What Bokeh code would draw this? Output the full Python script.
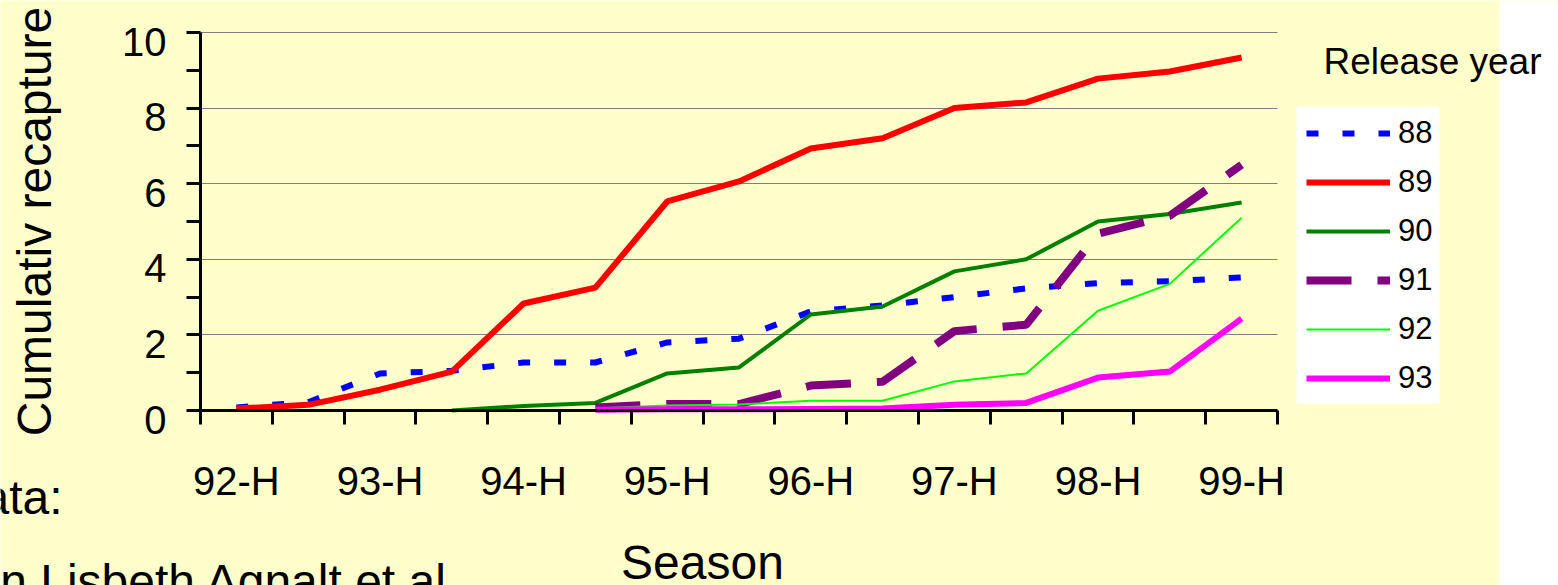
import math
from bokeh.plotting import figure
from bokeh.models import (Range1d, FixedTicker, Label, Legend, LegendItem,
                          BoxAnnotation, LinearAxis)
from bokeh.embed import file_html
from bokeh.resources import INLINE

# ---- data -------------------------------------------------------------
seasons = ["92-H", "93-V", "93-H", "94-V", "94-H", "95-V", "95-H", "96-V",
           "96-H", "97-V", "97-H", "98-V", "98-H", "99-V", "99-H"]
y_ticks = [0, 2, 4, 6, 8, 10]
y_minor = [1, 3, 5, 7, 9]
y_max = 10

r88 = [0.08, 0.22, 0.98, 1.05, 1.27, 1.27, 1.80, 1.90, 2.62, 2.78, 3.00, 3.23, 3.37, 3.42, 3.52]
r89 = [0.05, 0.15, 0.55, 1.03, 2.83, 3.25, 5.53, 6.06, 6.93, 7.20, 8.00, 8.15, 8.78, 8.97, 9.34]
r90 = [None, None, None, 0.00, 0.12, 0.20, 0.98, 1.14, 2.54, 2.75, 3.68, 4.00, 5.00, 5.20, 5.50]
r91 = [None, None, None, None, None, 0.08, 0.17, 0.17, 0.66, 0.76, 2.10, 2.27, 4.68, 5.15, 6.50]
r92 = [None, None, None, None, None, 0.05, 0.13, 0.16, 0.26, 0.26, 0.77, 0.98, 2.64, 3.35, 5.10]
r93 = [None, None, None, None, None, 0.02, 0.03, 0.03, 0.04, 0.05, 0.15, 0.20, 0.87, 1.03, 2.43]

release_years = ["88", "89", "90", "91", "92", "93"]
series = [r88, r89, r90, r91, r92, r93]

# ---- layout (pixels) ------------------------------------------------------
W, H = 1558, 585
PLOT_L, PLOT_R, PLOT_T, PLOT_B = 200, 1277, 32, 410   # plot area in canvas px
n = len(seasons)
kx = (PLOT_R - PLOT_L) / n
ky = (PLOT_B - PLOT_T) / y_max
LABEL_DROP = 9 / ky          # y tick labels sit a little below their ticks

FONT = "Liberation Sans"
BG = "#FFFFCC"
styles = {
    "88": dict(line_color="#0000FF", line_width=6, line_dash="12 24"),
    "89": dict(line_color="#FF0000", line_width=6),
    "90": dict(line_color="#008000", line_width=4),
    "91": dict(line_color="#800080", line_width=8, line_dash="45 26"),
    "92": dict(line_color="#00FF00", line_width=2),
    "93": dict(line_color="#FF00FF", line_width=6),
}

# the frame covers the whole canvas; the axes sit at fixed locations inside it
p = figure(width=W, height=H, output_backend="svg", toolbar_location=None,
           x_range=Range1d(-PLOT_L / kx, (W - PLOT_L) / kx),
           y_range=Range1d(-(H - PLOT_B) / ky, y_max + PLOT_T / ky),
           min_border=0)
p.background_fill_color = BG
p.border_fill_color = BG
p.outline_line_color = None

# white page strip at the right edge
p.add_layout(BoxAnnotation(left=1499, left_units="screen", fill_color="white",
                           fill_alpha=1, line_color=None, level="underlay"))

# ---- grid ---------------------------------------------------------------
g = p.ygrid[0]
g.ticker = FixedTicker(ticks=y_ticks)
g.bounds = (0, y_max)
g.grid_line_color = "#808080"
g.grid_line_width = 1
if "cross_bounds" in g.properties():
    g.cross_bounds = (0, n)
p.xgrid.visible = False

items = []
for year, vals in zip(release_years, series):
    xs = [i + 0.5 for i, v in enumerate(vals) if v is not None]
    ys = [v for v in vals if v is not None]
    r = p.line(xs, ys, **styles[year])
    items.append(LegendItem(label=year, renderers=[r]))

# ---- axes -------------------------------------------------------------
xax = p.xaxis[0]
label_pos = [i + 0.5 for i in range(0, n, 2)]
xax.fixed_location = 0
xax.bounds = (0, n)
xax.ticker = FixedTicker(ticks=label_pos, minor_ticks=list(range(n + 1)))
xax.major_label_overrides = {i + 0.5: seasons[i] for i in range(0, n, 2)}
xax.axis_line_width = 3
xax.axis_line_color = "black"
xax.major_tick_out = 0
xax.major_tick_in = 0
xax.minor_tick_out = 14
xax.minor_tick_in = 0
xax.minor_tick_line_width = 3
xax.minor_tick_line_color = "black"
xax.major_label_standoff = 34
xax.major_label_text_font = FONT
xax.major_label_text_font_size = "40px"
xax.major_label_text_color = "black"

# y axis: line + ticks
yax = p.yaxis[0]
yax.fixed_location = 0
yax.bounds = (0, y_max)
yax.ticker = FixedTicker(ticks=y_ticks, minor_ticks=y_minor)
yax.axis_line_width = 3
yax.axis_line_color = "black"
yax.major_tick_out = 14
yax.major_tick_in = 0
yax.minor_tick_out = 14
yax.minor_tick_in = 0
yax.major_tick_line_width = 3
yax.minor_tick_line_width = 3
yax.major_tick_line_color = "black"
yax.minor_tick_line_color = "black"
yax.major_label_overrides = {v: "" for v in y_ticks}

# y axis: tick labels (set slightly below the ticks, as in the original)
lab_ticks = [round(v - LABEL_DROP, 4) for v in y_ticks]
ylab = LinearAxis(fixed_location=0, bounds=(-LABEL_DROP - 0.1, y_max),
                  ticker=FixedTicker(ticks=lab_ticks, minor_ticks=[]),
                  major_label_overrides={t: str(v) for t, v in zip(lab_ticks, y_ticks)},
                  axis_line_color=None, major_tick_line_color=None,
                  minor_tick_line_color=None, major_tick_out=0, major_tick_in=0,
                  major_label_standoff=34, major_label_text_font=FONT,
                  major_label_text_font_size="40px", major_label_text_color="black")
p.add_layout(ylab, "left")

# ---- legend -------------------------------------------------------------
p.add_layout(BoxAnnotation(left=1296, right=1439, bottom=H - 403, top=H - 106,
                           left_units="screen", right_units="screen",
                           bottom_units="screen", top_units="screen",
                           fill_color="white", fill_alpha=1, line_color=None))
leg = Legend(items=items, location=(1306, H - 398), margin=0, padding=0, spacing=9,
             glyph_width=84, glyph_height=40, label_height=40, label_standoff=8,
             label_text_font=FONT, label_text_font_size="31px",
             label_text_color="black", background_fill_alpha=0,
             border_line_color=None)
p.add_layout(leg)

# ---- texts (screen px from the canvas' bottom-left) -----------------------
def add_text(txt, x, y_px, size, align="left", angle=0.0):
    p.add_layout(Label(x=x, y=H - y_px, x_units="screen", y_units="screen",
                       text=txt, text_font=FONT, text_font_size=size,
                       text_color="black", text_align=align, angle=angle,
                       text_baseline="alphabetic"))

add_text("Cumulativ recapture", 34, (PLOT_T + PLOT_B) / 2, "48px", "center", math.pi / 2)
add_text("Release year", 1323, 61, "37px")
add_text("Season", 702, 562, "48px", "center")
add_text("Data:", 62, 497, "48px", "right")
add_text("Ann Lisbeth Agnalt et al.", -59, 581, "48px")

open("out.html", "w").write(file_html(p, INLINE))
